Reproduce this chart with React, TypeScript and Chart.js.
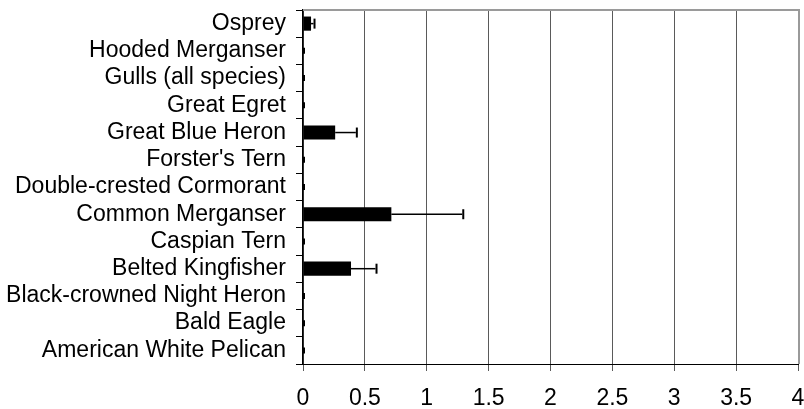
import React, { useEffect, useRef } from "react";
import { Chart, registerables } from "chart.js";

Chart.register(...registerables);

const categories = [
  "Osprey",
  "Hooded Merganser",
  "Gulls (all species)",
  "Great Egret",
  "Great Blue Heron",
  "Forster's Tern",
  "Double-crested Cormorant",
  "Common Merganser",
  "Caspian Tern",
  "Belted Kingfisher",
  "Black-crowned Night Heron",
  "Bald Eagle",
  "American White Pelican",
];

const values = [0.065, 0, 0, 0, 0.26, 0, 0, 0.714, 0, 0.388, 0, 0, 0];
const errors = [0.02, 0, 0, 0, 0.167, 0, 0, 0.573, 0, 0.198, 0, 0, 0];

const xMin = 0;
const xMax = 4;
const xStep = 0.5;

const FONT = "'Liberation Sans', Arial, sans-serif";

const errorBarPlugin = {
  id: "errorBars",
  afterDatasetsDraw(chart: any) {
    const ctx = chart.ctx;
    const xs = chart.scales.x;
    const meta = chart.getDatasetMeta(0);
    const area = chart.chartArea;
    ctx.save();
    // plot area border (top & right)
    ctx.strokeStyle = "#9a9a9a";
    ctx.lineWidth = 2;
    ctx.beginPath();
    ctx.moveTo(area.left, area.top);
    ctx.lineTo(area.right + 1, area.top);
    ctx.lineTo(area.right + 1, area.bottom);
    ctx.stroke();

    ctx.strokeStyle = "#000";
    meta.data.forEach((bar: any, i: number) => {
      const v = values[i];
      const e = errors[i];
      const y = bar.y;
      const x0 = xs.getPixelForValue(v);
      const x1 = xs.getPixelForValue(v + e);
      ctx.lineWidth = 1.5;
      ctx.beginPath();
      ctx.moveTo(x0, y);
      ctx.lineTo(x1, y);
      ctx.stroke();
      ctx.lineWidth = 2;
      const h = e > 0 ? 5 : 3;
      ctx.beginPath();
      ctx.moveTo(x1 + 1, y - h);
      ctx.lineTo(x1 + 1, y + h);
      ctx.stroke();
    });
    ctx.restore();
  },
};

function clearPadding(scale: any) {
  scale.paddingTop = 0;
  scale.paddingBottom = 0;
  scale.paddingLeft = 0;
  scale.paddingRight = 0;
}

export default function App() {
  const ref = useRef<HTMLCanvasElement | null>(null);

  useEffect(() => {
    document.body.style.margin = "0";
    const chart = new Chart(ref.current as HTMLCanvasElement, {
      type: "bar",
      data: {
        labels: categories,
        datasets: [
          {
            data: values,
            backgroundColor: "#000",
            borderWidth: 0,
            categoryPercentage: 1,
            barPercentage: 0.52,
          },
        ],
      },
      options: {
        indexAxis: "y",
        animation: false,
        responsive: true,
        maintainAspectRatio: false,
        layout: { padding: { top: 10, right: 6, left: 0, bottom: 0 } },
        plugins: {
          legend: { display: false },
          tooltip: { enabled: false },
        },
        scales: {
          x: {
            min: xMin,
            max: xMax,
            ticks: {
              stepSize: xStep,
              color: "#000",
              font: { family: FONT, size: 23 },
              padding: 14,
              maxRotation: 0,
              callback: (v: any) => String(Number(v)),
            },
            grid: {
              color: "#5a5a5a",
              lineWidth: 1,
              tickLength: 7,
              drawTicks: true,
            },
            border: { color: "#000", width: 1 },
            afterFit(scale: any) {
              scale.height = 45;
              clearPadding(scale);
            },
          },
          y: {
            ticks: {
              color: "#000",
              font: { family: FONT, size: 23 },
              padding: 10,
              autoSkip: false,
            },
            grid: {
              drawOnChartArea: false,
              drawTicks: true,
              tickLength: 7,
              color: "#000",
              offset: true,
            },
            border: { color: "#000", width: 1.5 },
            afterFit(scale: any) {
              scale.width = 303;
              clearPadding(scale);
            },
          },
        },
      },
      plugins: [errorBarPlugin],
    } as any);
    return () => chart.destroy();
  }, []);

  return (
    <div style={{ position: "absolute", left: 0, top: 0, width: 804, height: 409 }}>
      <canvas ref={ref} />
    </div>
  );
}
